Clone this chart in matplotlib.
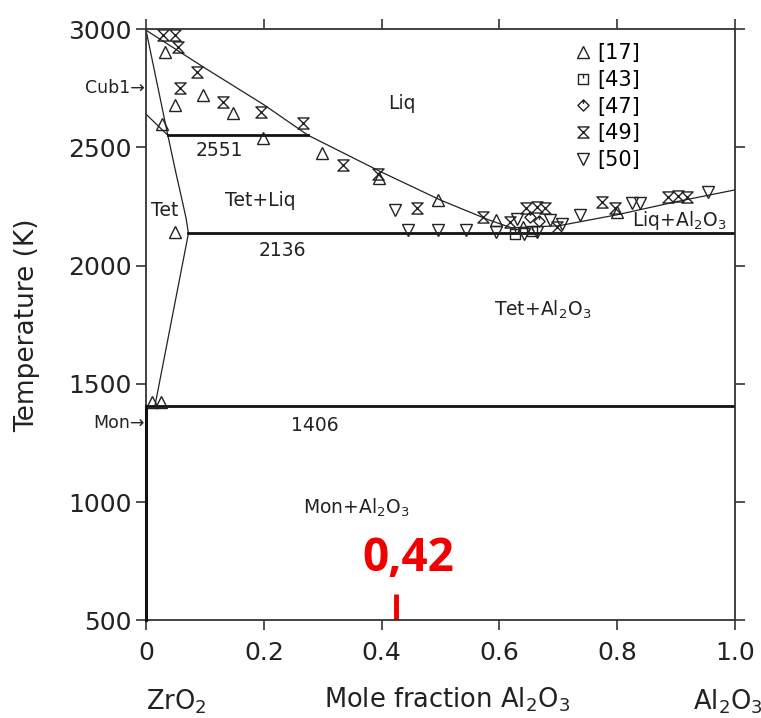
import numpy as np
import matplotlib
matplotlib.use("Agg")
import matplotlib.pyplot as plt
from matplotlib.path import Path

# ------------------------------
# DATA
# ------------------------------
# [17] triangle up
x17 = [0.032, 0.027, 0.049, 0.097, 0.148, 0.199, 0.298, 0.396, 0.496, 0.049,
       0.595, 0.640, 0.799, 0.010, 0.025]
t17 = [2904, 2600, 2679, 2721, 2643, 2538, 2474, 2372, 2277, 2142,
       2192, 2165, 2227, 1425, 1425]
# [43] square
x43 = [0.626, 0.655]
t43 = [2132, 2145]
# [47] diamond
x47 = [0.652, 0.668]
t47 = [2206, 2190]
# [49] hourglass
x49 = [0.029, 0.049, 0.055, 0.086, 0.058, 0.131, 0.196, 0.267, 0.335, 0.394,
       0.460, 0.573, 0.618, 0.646, 0.663, 0.677, 0.697, 0.774, 0.796, 0.887,
       0.904, 0.918]
t49 = [2975, 2975, 2925, 2820, 2749, 2692, 2650, 2601, 2425, 2389,
       2242, 2206, 2185, 2242, 2249, 2242, 2165, 2270, 2245, 2292,
       2295, 2290]
# [50] triangle down
x50 = [0.423, 0.445, 0.496, 0.544, 0.595, 0.641, 0.663, 0.630, 0.686, 0.737,
       0.825, 0.838, 0.955, 0.706]
t50 = [2234, 2150, 2150, 2150, 2143, 2132, 2143, 2195, 2192, 2213,
       2263, 2263, 2312, 2175]

# phase boundaries
liq_left_x = [0, 0.1, 0.2, 0.275, 0.4, 0.5, 0.58, 0.62]
liq_left_t = [2995, 2835, 2680, 2551, 2395, 2277, 2195, 2160]
liq_right_x = [0.62, 0.70, 0.80, 0.90, 1.0]
liq_right_t = [2160, 2168, 2215, 2270, 2320]
cub_tet_x = [0, 0.037, 0.050, 0.060, 0.068, 0.072]
cub_tet_t = [2995, 2551, 2400, 2290, 2200, 2136]
tet_liq_x = [0, 0.037]
tet_liq_t = [2640, 2551]
solvus_x = [0.072, 0.015]
solvus_t = [2136, 1406]
mon_x = [0.0, 0.0]
mon_t = [500, 1406]
# invariant lines: (temperature, x start, x end)
invariants = [(2551, 0.037, 0.275), (2136, 0.072, 1.0), (1406, 0.0, 1.0)]

refs = ["[17]", "[43]", "[47]", "[49]", "[50]"]
x_mark = 0.424

# ------------------------------
# MARKERS
# ------------------------------
hourglass = Path([(-1, 1), (1, 1), (-1, -1), (1, -1), (-1, 1)],
                 [Path.MOVETO, Path.LINETO, Path.LINETO, Path.LINETO, Path.CLOSEPOLY])
sq_tick = Path([(-1, -1), (1, -1), (1, 1), (-1, 1), (-1, -1), (0, 1), (0, 0.2)],
               [Path.MOVETO, Path.LINETO, Path.LINETO, Path.LINETO, Path.CLOSEPOLY,
                Path.MOVETO, Path.LINETO])
dia_tick = Path([(0, -1), (1, 0), (0, 1), (-1, 0), (0, -1), (0, 1), (0, 0.3)],
                [Path.MOVETO, Path.LINETO, Path.LINETO, Path.LINETO, Path.CLOSEPOLY,
                 Path.MOVETO, Path.LINETO])

plt.rcParams['font.family'] = ['DejaVu Sans']

fig = plt.figure(figsize=(7.61, 7.18), dpi=100)
ax = fig.add_axes([0.1919, 0.1358, 0.7739, 0.8238])

lc = "#222222"
for xs, ts in [(liq_left_x, liq_left_t), (liq_right_x, liq_right_t),
               (cub_tet_x, cub_tet_t), (tet_liq_x, tet_liq_t), (solvus_x, solvus_t)]:
    ax.plot(xs, ts, color=lc, lw=0.9)
ax.plot(mon_x, mon_t, color="#111111", lw=2.2, clip_on=False, zorder=3)
for t, a, b in invariants:
    ax.plot([a, b], [t, t], color="#111111", lw=2.0)

mk = dict(linestyle="none", markerfacecolor="none", markeredgecolor="#222222",
          markeredgewidth=1.0)
h17, = ax.plot(x17, t17, marker="^", markersize=9, **mk)
h43, = ax.plot(x43, t43, marker=sq_tick, markersize=7, **mk)
h47, = ax.plot(x47, t47, marker=dia_tick, markersize=8, **mk)
h49, = ax.plot(x49, t49, marker=hourglass, markersize=8, **mk)
h50, = ax.plot(x50, t50, marker="v", markersize=9, **mk)

leg = ax.legend([h17, h43, h47, h49, h50], refs, loc="upper left",
                bbox_to_anchor=(0.73, 0.976), frameon=False, fontsize=15,
                handlelength=0.7, handletextpad=0.3, labelspacing=0.32,
                borderpad=0, borderaxespad=0)

# region labels
fs = 13.5
ax.text(0.435, 2687, "Liq", fontsize=fs, ha="center", va="center", color=lc)
ax.text(0.124, 2488, "2551", fontsize=fs, ha="center", va="center", color=lc)
ax.text(0.032, 2234, "Tet", fontsize=fs, ha="center", va="center", color=lc)
ax.text(0.194, 2277, "Tet+Liq", fontsize=fs, ha="center", va="center", color=lc)
ax.text(0.231, 2065, "2136", fontsize=fs, ha="center", va="center", color=lc)
ax.text(0.674, 1811, "Tet+Al$_2$O$_3$", fontsize=fs, ha="center", va="center", color=lc)
ax.text(0.905, 2192, "Liq+Al$_2$O$_3$", fontsize=fs, ha="center", va="center", color=lc)
ax.text(0.287, 1325, "1406", fontsize=fs, ha="center", va="center", color=lc)
ax.text(0.357, 978, "Mon+Al$_2$O$_3$", fontsize=fs, ha="center", va="center", color=lc)
ax.text(-0.002, 2750, "Cub1\u2192", fontsize=12.5, ha="right", va="center", color=lc)
ax.text(-0.002, 1333, "Mon\u2192", fontsize=12.5, ha="right", va="center", color=lc)

# red marker
ax.plot([x_mark, x_mark], [500, 610], color="#f00000", lw=3.5, solid_capstyle="butt")
ax.text(0.445, 762, "0,42", fontsize=33, fontweight="bold", family=["Open Sans", "DejaVu Sans"],
        color="#f00000", ha="center", va="center")

ax.set_xlim(0, 1.0)
ax.set_ylim(500, 3000)
ax.set_xticks([0, 0.2, 0.4, 0.6, 0.8, 1.0])
ax.set_xticklabels(["0", "0.2", "0.4", "0.6", "0.8", "1.0"])
ax.set_yticks([500, 1000, 1500, 2000, 2500, 3000])
ax.tick_params(direction="out", length=7, width=1.2, colors="#333333",
               labelsize=18, labelcolor="#222222", top=True, right=True,
               labeltop=False, labelright=False)
ax.tick_params(axis="x", pad=8)
for s in ax.spines.values():
    s.set_linewidth(1.3)
    s.set_color("#333333")

ax.set_ylabel("Temperature (K)", fontsize=19, color="#222222", labelpad=20)
fig.text(0.587, 0.025, "Mole fraction Al$_2$O$_3$", fontsize=18.5, ha="center",
         va="center", color="#222222")
fig.text(0.231, 0.022, "ZrO$_2$", fontsize=18.5, ha="center", va="center", color="#222222")
fig.text(0.956, 0.022, "Al$_2$O$_3$", fontsize=18.5, ha="center", va="center", color="#222222")

fig.savefig("out.png", dpi=100)
